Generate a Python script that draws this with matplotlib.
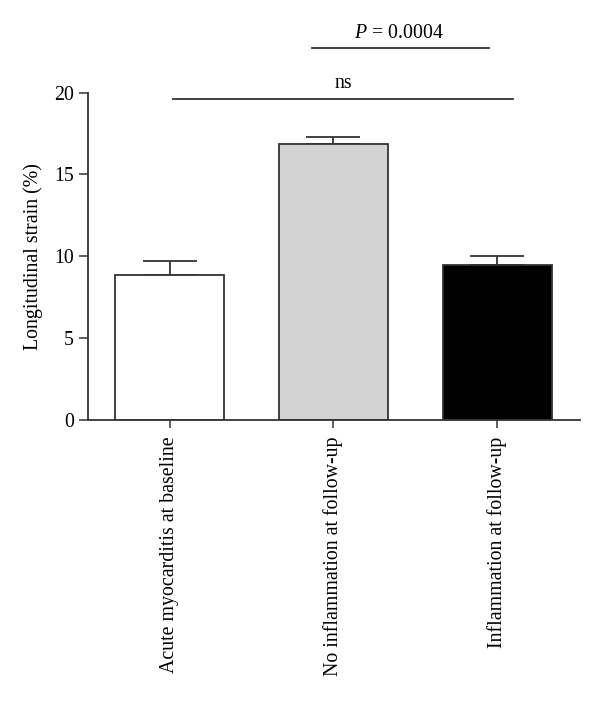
import matplotlib
matplotlib.use("Agg")
import matplotlib.pyplot as plt

# ==============================
# DATI
# ==============================
gruppi = ["Acute myocarditis at baseline",
          "No inflammation at follow-up",
          "Inflammation at follow-up"]
medie = [8.86, 16.84, 9.49]
errori = [0.87, 0.47, 0.55]
colori = ["white", "#d3d3d3", "black"]

plt.rcParams["font.family"] = ["Liberation Serif", "DejaVu Serif"]
plt.rcParams["mathtext.fontset"] = "custom"
plt.rcParams["mathtext.it"] = "Liberation Serif:italic"
plt.rcParams["mathtext.rm"] = "Liberation Serif"

fig = plt.figure(figsize=(6.0, 7.01), dpi=100)
ax = fig.add_axes([0.146, 0.401, 0.821, 0.467])

x = range(len(gruppi))
ax.bar(x, medie, width=0.667, color=colori, edgecolor="#333333", linewidth=1.3,
       zorder=2)
ax.errorbar(x, medie, yerr=[[0] * 3, errori], fmt="none", ecolor="#333333",
            elinewidth=1.3, capsize=19.5, capthick=1.3, zorder=1)

ax.set_xlim(-0.503, 2.508)
ax.set_ylim(0, 20)
ax.set_yticks([0, 5, 10, 15, 20])
ax.set_xticks(list(x))
ax.set_xticklabels(gruppi, rotation=90, fontsize=14.3)
ax.tick_params(axis="y", labelsize=14.3, length=6.5, width=1.1, color="#333333")
ax.tick_params(axis="x", length=6, width=1.1, color="#333333", pad=6)
ax.set_ylabel("Longitudinal strain (%)", fontsize=14.3, labelpad=8)

for lato in ["top", "right"]:
    ax.spines[lato].set_visible(False)
for lato in ["left", "bottom"]:
    ax.spines[lato].set_linewidth(1.3)
    ax.spines[lato].set_color("#333333")

# Linee di significatività
ax.plot([0.02, 2.10], [19.59, 19.59], color="#333333", lw=1.3, clip_on=False)
ax.text(1.06, 19.97, "ns", ha="center", va="bottom", fontsize=14.3)
ax.plot([0.87, 1.95], [22.74, 22.74], color="#333333", lw=1.3, clip_on=False)
ax.text(1.40, 23.0, r"$P$ = 0.0004", ha="center", va="bottom", fontsize=14.3)

fig.savefig("out.png", dpi=100)
